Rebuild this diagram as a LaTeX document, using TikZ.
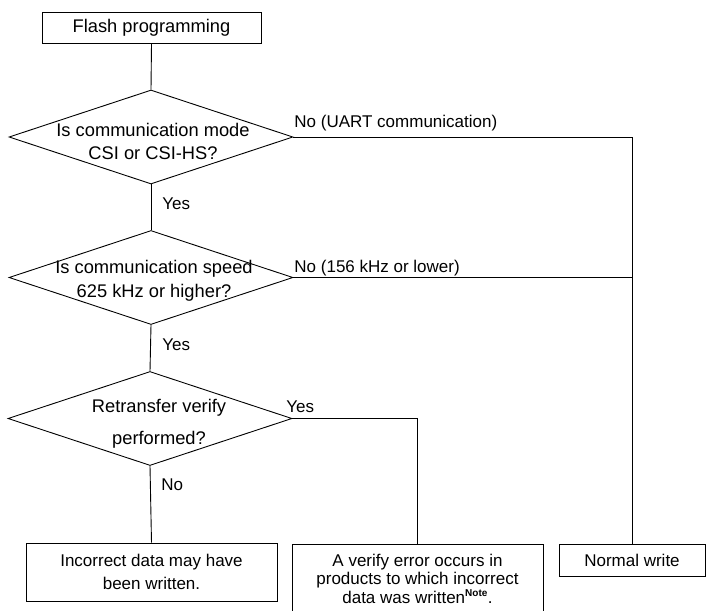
\documentclass[tikz,border=0pt]{standalone}
\usepackage{fontspec}
\setmainfont{Liberation Sans}
\usetikzlibrary{shapes.geometric}
\begin{document}
\begin{tikzpicture}[x=1pt,y=-1pt,line width=0.9pt,
  every node/.style={font=\fontsize{17}{23}\selectfont},
  procbox/.style={draw,rectangle,inner sep=0pt,align=center},
  decision/.style={draw,diamond,inner sep=0pt,minimum width=284pt,minimum height=94pt},
  txt/.style={inner sep=0pt,align=center},
  bigtxt/.style={txt,font=\fontsize{18.3}{23.5}\selectfont},
  lbl/.style={inner sep=0pt,anchor=base west}]
\useasboundingbox (0,0) rectangle (706,610);

% start box
\node[procbox,minimum width=219pt,minimum height=31pt,font=\fontsize{18.3}{22}\selectfont] (start) at (151.5,27.5) {Flash programming};

% decisions
\node[decision] (d1) at (151,137) {};
\node[bigtxt] (d1t) at (153,141.5) {Is communication mode\\CSI or CSI-HS?};
\node[decision] (d2) at (151,277.5) {};
\node[bigtxt] (d2t) at (154,281) {Is communication speed\\625 kHz or higher?};
\node[decision] (d3) at (150,418.5) {};
\node[bigtxt,font=\fontsize{18.3}{32}\selectfont] (d3t) at (159,424) {Retransfer verify\\performed?};

% results
\node[procbox,minimum width=251pt,minimum height=58pt] (r1) at (151.5,572)
  {\fontsize{17}{24}\selectfont Incorrect data may have\\been written.};
\node[procbox,minimum width=251pt,minimum height=72pt] (r2) at (417.5,580) {};
\node[txt,font=\fontsize{17}{18.5}\selectfont] (r2t) at (417.5,578.5)
  {A verify error occurs in\\products to which incorrect\\data was written\textsuperscript{\bfseries\fontsize{10}{10}\selectfont Note}.};
\node[procbox,minimum width=146pt,minimum height=32pt] (r3) at (632,560) {Normal write};

% connectors
\draw (start.south) -- (d1.north);
\draw (d1.south) -- (d2.north);
\draw (d2.south) -- (d3.north);
\draw (d3.south) -- (r1.north);
\draw (d3.east) -| (r2.north);
\draw (d1.east) -| (r3.north);
\draw (d2.east) -- (d2.east -| r3.north);

% branch labels
\node[lbl] (y1) at (162,209) {Yes};
\node[lbl] (y2) at (162,350) {Yes};
\node[lbl] (n3) at (161,490) {No};
\node[lbl] (y3) at (286,412) {Yes};
\node[lbl] (n1) at (294,127) {No (UART communication)};
\node[lbl] (n2) at (294,272) {No (156 kHz or lower)};
\end{tikzpicture}
\end{document}
